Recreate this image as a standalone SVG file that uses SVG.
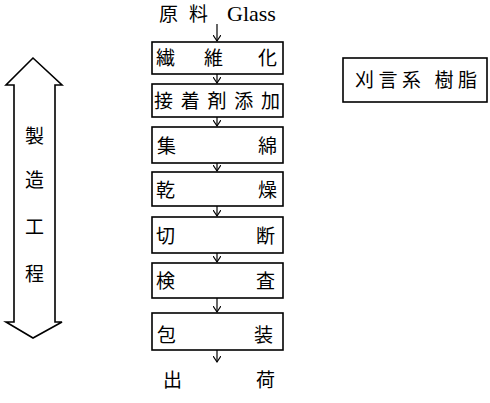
<svg xmlns="http://www.w3.org/2000/svg" width="490" height="403" viewBox="0 0 490 403">
<defs>
<marker id="ah" markerWidth="8" markerHeight="8" refX="6" refY="4" orient="auto" markerUnits="userSpaceOnUse">
<path d="M0,0 L6,4 L0,8" fill="none" stroke="#000" stroke-width="1.2"/>
</marker>
<style>
.box{fill:#fff;stroke:#000;stroke-width:1.6}
.t{font-family:"Noto Sans CJK JP","Noto Sans CJK SC",sans-serif;font-size:19px;fill:#000}
.e{font-family:"Liberation Serif",serif;font-size:22px;fill:#000}
.c{stroke:#000;stroke-width:1.2;fill:none}
</style>
</defs>
<rect width="490" height="403" fill="#fff"/>
<g id="source">
<text class="t" x="159" y="21">原</text>
<text class="t" x="189" y="21">料</text>
<text class="e" x="227" y="21">Glass</text>
</g>
<g id="n1"><rect class="box" x="152" y="42" width="131" height="32"/>
<text class="t" x="156" y="65">繊</text><text class="t" x="204" y="65">維</text><text class="t" x="258" y="65">化</text></g>
<g id="n2"><rect class="box" x="152" y="84" width="131" height="33"/>
<text class="t" x="154" y="108" textLength="126" lengthAdjust="spacing">接着剤添加</text></g>
<g id="n3"><rect class="box" x="152" y="127" width="131" height="36"/>
<text class="t" x="157" y="153">集</text><text class="t" x="258" y="153">綿</text></g>
<g id="n4"><rect class="box" x="152" y="172" width="131" height="34"/>
<text class="t" x="156" y="197">乾</text><text class="t" x="258" y="197">燥</text></g>
<g id="n5"><rect class="box" x="152" y="217" width="131" height="36"/>
<text class="t" x="156" y="243">切</text><text class="t" x="256" y="243">断</text></g>
<g id="n6"><rect class="box" x="152" y="263" width="131" height="35"/>
<text class="t" x="156" y="288">検</text><text class="t" x="256" y="288">査</text></g>
<g id="n7"><rect class="box" x="152" y="313" width="131" height="37"/>
<text class="t" x="157" y="342">包</text><text class="t" x="254" y="342">装</text></g>
<g id="sink">
<text class="t" x="163" y="387">出</text><text class="t" x="256" y="387">荷</text>
</g>
<g id="side"><rect class="box" x="343" y="58" width="144" height="44"/>
<text class="t" x="355" y="87" textLength="122" lengthAdjust="spacing">刈言系 樹脂</text></g>
<g id="process">
<path d="M33,58 L6,85 L14,85 L14,322 L6,322 L33,338 L62,322 L55,322 L55,85 L62,85 Z" fill="#fff" stroke="#000" stroke-width="1.6" stroke-linejoin="miter"/>
<text class="t" x="25" y="143">製</text>
<text class="t" x="25" y="187">造</text>
<text class="t" x="25" y="234">工</text>
<text class="t" x="25" y="281">程</text>
</g>
<g id="connectors">
<line class="c" x1="217" y1="24" x2="217" y2="41" marker-end="url(#ah)"/>
<line class="c" x1="217" y1="74" x2="217" y2="83" marker-end="url(#ah)"/>
<line class="c" x1="217" y1="117" x2="217" y2="126" marker-end="url(#ah)"/>
<line class="c" x1="217" y1="163" x2="217" y2="171" marker-end="url(#ah)"/>
<line class="c" x1="217" y1="206" x2="217" y2="216" marker-end="url(#ah)"/>
<line class="c" x1="217" y1="253" x2="217" y2="262" marker-end="url(#ah)"/>
<line class="c" x1="217" y1="298" x2="217" y2="312" marker-end="url(#ah)"/>
<line class="c" x1="217" y1="350" x2="217" y2="362" marker-end="url(#ah)"/>
</g>
</svg>
